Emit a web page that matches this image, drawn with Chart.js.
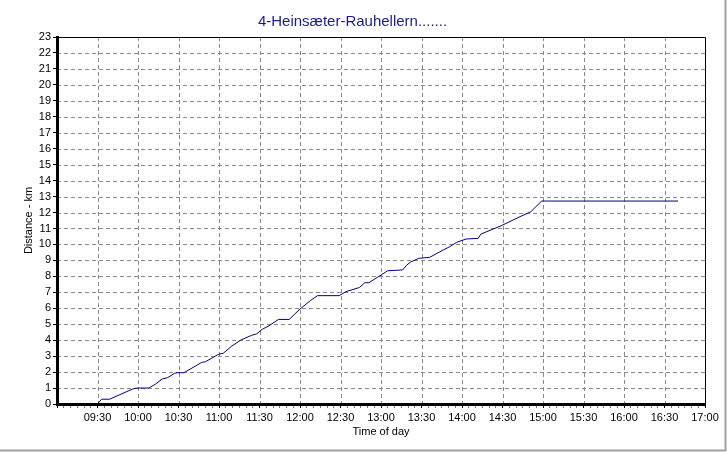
<!DOCTYPE html>
<html>
<head>
<meta charset="utf-8">
<script src="https://cdn.jsdelivr.net/npm/chart.js@4/dist/chart.umd.min.js"></script>
<style>
html,body{margin:0;padding:0;background:#fff;}
canvas{display:block;}
</style>
</head>
<body>
<canvas id="c" width="727" height="452"></canvas>
<script>
const chartTitle = '4-Heinsæter-Rauhellern.......';
const xTitle = 'Time of day';
const yTitle = 'Distance - km';

const times = ['09:30','09:33','09:39','09:56','09:59','10:08','10:13','10:18','10:22','10:27','10:29','10:34','10:43','10:47','10:50','11:00','11:03','11:09','11:16','11:24','11:28','11:32','11:37','11:44','11:52','12:00','12:08','12:13','12:29','12:34','12:44','12:48','12:51','13:00','13:05','13:16','13:19','13:22','13:28','13:36','13:46','13:51','13:56','14:03','14:12','14:14','14:29','14:43','14:51','14:59','16:40'];
const distanceKm = [0,0.3,0.3,0.94,1.0,1.0,1.25,1.57,1.65,1.92,1.96,1.96,2.4,2.6,2.65,3.13,3.17,3.6,4.0,4.3,4.4,4.68,4.9,5.3,5.3,5.95,6.5,6.79,6.79,7.04,7.3,7.6,7.6,8.08,8.35,8.4,8.7,8.9,9.13,9.19,9.65,9.86,10.13,10.34,10.38,10.65,11.17,11.74,12.05,12.72,12.72];

const xMin = '09:00', xMax = '17:00';
const yMin = 0, yMax = 23;

function toMin(t){ const p = t.split(':'); return (+p[0])*60 + (+p[1]); }
function fmt(m){ const h = Math.floor(m/60), mm = m%60; return String(h).padStart(2,'0')+':'+String(mm).padStart(2,'0'); }

const points = times.map((t,i)=>({x:toMin(t), y:distanceKm[i]}));

const FONT = '"Liberation Sans", Arial, sans-serif';

const gridPlugin = {
  id:'dashgrid',
  beforeDatasetsDraw(chart){
    const {ctx, chartArea:a, scales} = chart;
    ctx.save();
    ctx.strokeStyle = '#8a8a8a';
    ctx.lineWidth = 1;
    ctx.setLineDash([4,3]);
    scales.x.ticks.forEach(t=>{
      if (t.value%30!==0) return;
      const px = Math.round(scales.x.getPixelForValue(t.value))+0.5;
      if (px <= a.left+2 || px >= a.right-1) return;
      ctx.beginPath(); ctx.moveTo(px, a.top); ctx.lineTo(px, a.bottom); ctx.stroke();
    });
    scales.y.ticks.forEach(t=>{
      const py = Math.round(scales.y.getPixelForValue(t.value))+0.5;
      if (py >= a.bottom-2 || py <= a.top+1) return;
      ctx.beginPath(); ctx.moveTo(a.left, py); ctx.lineTo(a.right, py); ctx.stroke();
    });
    ctx.restore();
  }
};

const framePlugin = {
  id:'frame',
  afterDraw(chart){
    const {ctx, chartArea:a} = chart;
    ctx.save();
    ctx.strokeStyle = '#000';
    ctx.lineWidth = 1;
    ctx.beginPath();
    ctx.moveTo(a.left, a.top+0.5); ctx.lineTo(a.right+0.5, a.top+0.5);
    ctx.lineTo(a.right+0.5, a.bottom);
    ctx.stroke();
    ctx.strokeStyle = '#a0a0a0';
    ctx.lineWidth = 2;
    ctx.beginPath();
    ctx.moveTo(0, chart.height-1.5); ctx.lineTo(chart.width-1.5, chart.height-1.5);
    ctx.lineTo(chart.width-1.5, 0);
    ctx.stroke();
    ctx.restore();
  }
};

new Chart(document.getElementById('c'), {
  type:'line',
  data:{ datasets:[{
    data: points,
    borderColor:'#000080',
    borderWidth:1,
    pointRadius:0,
    tension:0,
    fill:false
  }]},
  options:{
    responsive:false,
    animation:false,
    devicePixelRatio:1,
    layout:{padding:{left:0,right:22,top:0,bottom:0}},
    plugins:{
      legend:{display:false},
      tooltip:{enabled:false},
      title:{
        display:true,
        text:chartTitle,
        color:'#1c1c8c',
        font:{family:FONT,size:15,weight:'normal',lineHeight:1.2},
        padding:{top:13,bottom:6}
      }
    },
    scales:{
      x:{
        type:'linear',
        min:toMin(xMin), max:toMin(xMax),
        afterFit(s){ s.height = 48; },
        border:{display:true,color:'#000',width:3,z:1},
        grid:{
          drawOnChartArea:false,
          tickColor:(c)=> (c.tick && c.tick.value%30===0) ? '#000' : '#777',
          tickLength:4,
          lineWidth:1,
          drawTicks:true
        },
        ticks:{
          stepSize:5,
          autoSkip:false,
          maxRotation:0,
          minRotation:0,
          padding:3,
          color:'#000',
          font:{family:FONT,size:11},
          callback:(v)=> (v%30===0 && v>toMin(xMin)) ? fmt(v) : ''
        },
        title:{
          display:true,
          text:xTitle,
          color:'#000',
          font:{family:FONT,size:11,lineHeight:1.2},
          padding:{top:0,bottom:13}
        }
      },
      y:{
        min:yMin, max:yMax,
        afterFit(s){ s.width = 57; },
        border:{display:true,color:'#000',width:3,z:1},
        grid:{
          drawOnChartArea:false,
          tickColor:'#000',
          tickLength:4,
          lineWidth:1
        },
        ticks:{
          stepSize:1,
          autoSkip:false,
          padding:2,
          color:'#000',
          font:{family:FONT,size:11}
        },
        title:{
          display:true,
          text:yTitle,
          color:'#000',
          font:{family:FONT,size:11,lineHeight:1.2},
          padding:{top:22,bottom:0}
        }
      }
    }
  },
  plugins:[gridPlugin, framePlugin]
});
</script>
</body>
</html>
